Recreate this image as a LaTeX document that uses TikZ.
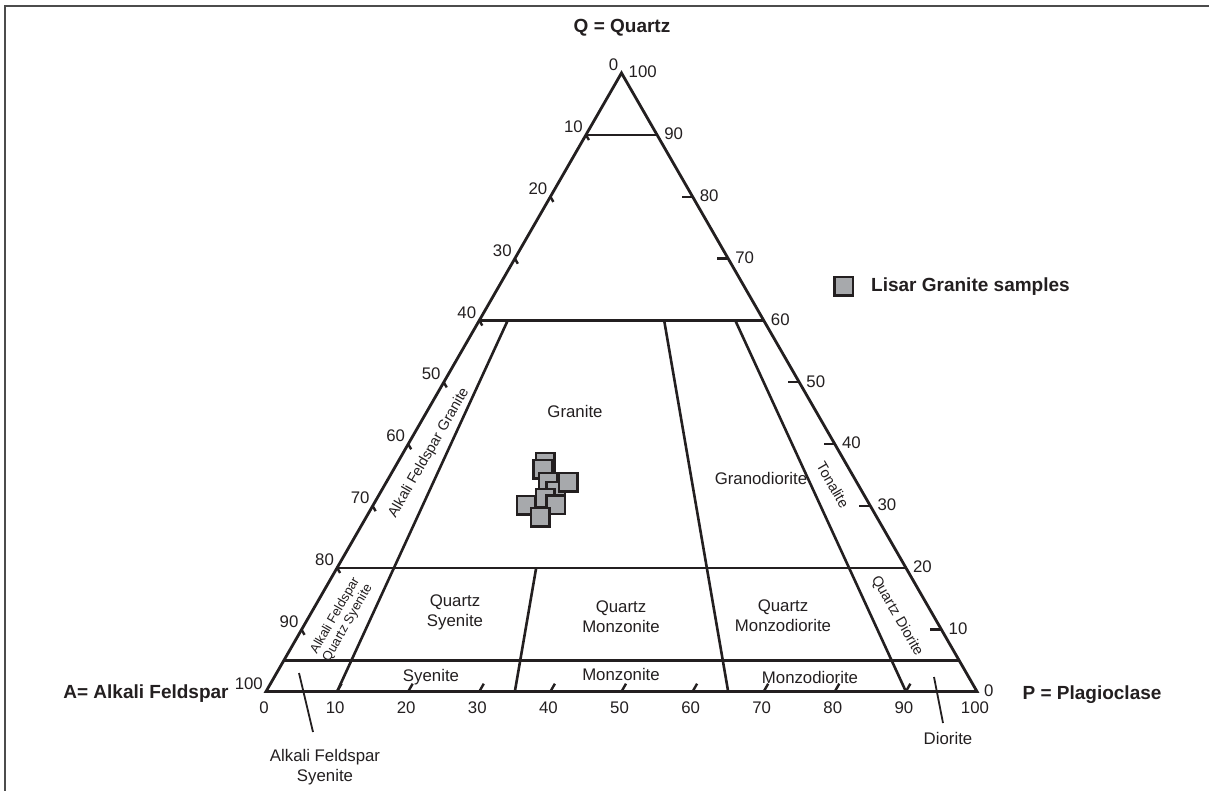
\documentclass[tikz,border=0pt]{standalone}
\usepackage{fontspec}
\setmainfont{Liberation Sans}
\usetikzlibrary{calc}
\definecolor{ink}{HTML}{231F20}
\definecolor{samplefill}{HTML}{A7A9AC}
\begin{document}
\begin{tikzpicture}[x=1pt,y=-1pt,
  edge/.style={draw=ink,line width=2.8pt,line join=miter},
  field/.style={draw=ink,line width=2.6pt},
  tickmark/.style={draw=ink,line width=2.4pt},
  pointer/.style={draw=ink,line width=1.8pt},
  lbl/.style={font=\fontsize{16.8}{20}\selectfont,text=ink,inner sep=0pt,align=center},
  rlbl/.style={font=\fontsize{14.5}{16}\selectfont,text=ink,inner sep=0pt,align=center},
  slbl/.style={font=\fontsize{13}{14.5}\selectfont,text=ink,inner sep=0pt,align=center},
  num/.style={font=\fontsize{16.8}{20}\selectfont,text=ink,inner sep=0pt},
  title/.style={font=\fontsize{19}{22}\selectfont\bfseries,text=ink,inner sep=0pt},
  sample/.style={draw=ink,fill=samplefill,line width=2.5pt,minimum size=18.5pt,inner sep=0pt}]
\useasboundingbox (0,0) rectangle (1209,791);
\fill[white] (0,0) rectangle (1209,791);
% frame
\draw[black!70,line width=1.6pt] (5,791) -- (5,6) -- (1209,6);

% corners
\coordinate (A) at (266,691.5);
\coordinate (P) at (977,691.5);
\coordinate (Q) at (621.5,73);

% horizontal field lines
\foreach \q/\n in {0.9/90,0.6/60,0.2/20,0.05/5}{
  \coordinate (L\n) at ($(A)!\q!(Q)$);
  \coordinate (R\n) at ($(P)!\q!(Q)$);
}
\coordinate (B10) at ($(A)!0.1!(P)$);
\coordinate (B35) at ($(A)!0.35!(P)$);
\coordinate (B65) at ($(A)!0.65!(P)$);
\coordinate (B90) at ($(A)!0.9!(P)$);
\coordinate (T10) at ($(L60)!0.1!(R60)$);
\coordinate (T65) at ($(L60)!0.65!(R60)$);
\coordinate (T90) at ($(L60)!0.9!(R60)$);
\coordinate (M35) at ($(L20)!0.35!(R20)$);

\draw[field] (L90) -- (R90);
\draw[field] (L60) -- (R60);
\draw[field] (L20) -- (R20);
\draw[field] (L5) -- (R5);
\draw[field] (T10) -- (B10);
\draw[field] (T65) -- (B65);
\draw[field] (T90) -- (B90);
\draw[field] (M35) -- (B35);

% ticks
\foreach \k in {1,...,9}{
  \coordinate (lt\k) at ($(A)!\k/10!(Q)$);
  \coordinate (rt\k) at ($(P)!\k/10!(Q)$);
  \coordinate (bt\k) at ($(A)!\k/10!(P)$);
  \draw[tickmark] (lt\k) -- ++(3,5.2);
  \draw[tickmark] (rt\k) -- ++(-11,0);
  \draw[tickmark] (bt\k) -- ++(4.5,-7.8);
}

% triangle
\draw[edge] (A) -- (P) -- (Q) -- cycle;

% scale labels
\foreach \k in {0,...,10}{
  \pgfmathtruncatemacro\v{10*\k}
  \node[num,anchor=south east] (ll\k) at ($(Q)!\k/10!(A)+(-3,-2)$) {\v};
  \node[num,anchor=west] (rl\k) at ($(P)!\k/10!(Q)+(7,-1)$) {\v};
  \node[num] (bl\k) at ($(A)!\k/10!(P)+(-2,16.5)$) {\v};
}

% field names
\node[lbl] (granite) at (575,411) {Granite};
\node[lbl] (granodiorite) at (761,478) {Granodiorite};
\node[rlbl,rotate=-60] (tonalite) at (833,485) {Tonalite};
\node[rlbl,rotate=-60] (qdiorite) at (897,616) {Quartz Diorite};
\node[rlbl,rotate=60] (afgranite) at (429,453) {Alkali Feldspar Granite};
\node[slbl,rotate=60] (afqsyenite) at (341.5,619.5) {Alkali Feldspar\\Quartz Syenite};
\node[lbl] (qsyenite) at (455,612) {Quartz\\Syenite};
\node[lbl] (qmonzonite) at (621,617) {Quartz\\Monzonite};
\node[lbl] (qmonzodiorite) at (783,616) {Quartz\\Monzodiorite};
\node[lbl] (syenite) at (431,677) {Syenite};
\node[lbl] (monzonite) at (621,674.5) {Monzonite};
\node[lbl] (monzodiorite) at (810,677) {Monzodiorite};
\node[lbl] (afsyenite) at (325,767) {Alkali Feldspar\\Syenite};
\node[lbl] (diorite) at (948,738) {Diorite};

\coordinate (afsA) at (299,673);
\coordinate (afsB) at (313,732);
\draw[pointer] (afsA) -- (afsB);
\coordinate (dioA) at (934,677);
\coordinate (dioB) at (943,723);
\draw[pointer] (dioA) -- (dioB);

% apex titles
\node[title] (qtitle) at (622,28) {Q = Quartz};
\node[title] (atitle) at (146,694) {A= Alkali Feldspar};
\node[title] (ptitle) at (1092,695) {P = Plagioclase};

% legend
\node[sample] (legsq) at (843.5,286.5) {};
\node[title,anchor=west] (legtxt) at (871,287) {Lisar Granite samples};

% samples
\node[sample] (s1) at (545.3,462.3) {};
\node[sample] (s2) at (542.7,469.3) {};
\node[sample] (s3) at (548.3,482) {};
\node[sample] (s5) at (555.7,491) {};
\node[sample] (s4) at (568.3,482) {};
\node[sample] (s6) at (526,505) {};
\node[sample] (s7) at (545,498) {};
\node[sample] (s8) at (555.7,504.7) {};
\node[sample] (s9) at (540.3,517.3) {};
\end{tikzpicture}
\end{document}
